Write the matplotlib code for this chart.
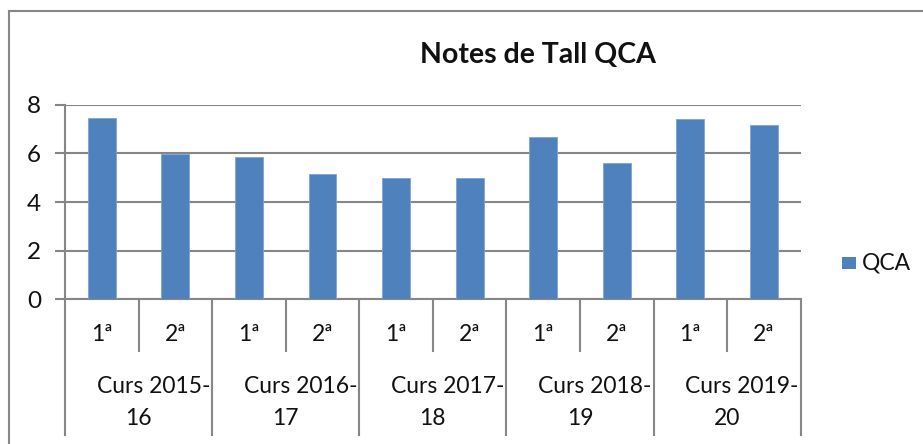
"""
Notes de Tall QCA - Excel style bar chart with two-level category axis
"""
import matplotlib.pyplot as plt
from matplotlib.lines import Line2D
import matplotlib.patches as mpatches

plt.rcParams['font.family'] = ['Lato', 'DejaVu Sans']

# Data
courses = ['Curs 2015-\n16', 'Curs 2016-\n17', 'Curs 2017-\n18', 'Curs 2018-\n19', 'Curs 2019-\n20']
terms = ['1ª', '2ª']
qca = [7.46, 5.97, 5.84, 5.14, 5.0, 5.0, 6.66, 5.62, 7.41, 7.15]
yticks = [0, 2, 4, 6, 8]

grey = '#868686'
bar_color = '#4F81BD'
txt = '#111111'

fig = plt.figure(figsize=(9.23, 4.44), dpi=100)
ax = fig.add_axes([65 / 923, 1 - 299.3 / 444, (800.7 - 65) / 923, (299.3 - 104.7) / 444])

n = len(qca)
x = [i + 0.5 for i in range(n)]
ax.bar(x, qca, width=0.38, color=bar_color, edgecolor='#7fa3d3', linewidth=0.6,
       zorder=3, label='QCA')

ax.set_xlim(0, n)
ax.set_ylim(0, 8)
ax.set_yticks(yticks)
ax.set_xticks([])
ax.grid(axis='y', color=grey, linewidth=1.5, zorder=1)
ax.tick_params(axis='y', length=7.2, width=1.5, color=grey, pad=10, labelsize=17.5,
               labelcolor=txt)
for s in ['top', 'right']:
    ax.spines[s].set_visible(False)
for s in ['left', 'bottom']:
    ax.spines[s].set_color(grey)
    ax.spines[s].set_linewidth(1.5)

# Two-level category axis
tr = ax.get_xaxis_transform()
nt = len(terms)
for i in range(n):
    ax.text(x[i], -0.183, terms[i % nt], transform=tr, ha='center', va='center',
            fontsize=16.5, color=txt)
    if i % nt != 0:
        ax.add_line(Line2D([i, i], [0, -0.266], transform=tr, color=grey,
                           linewidth=1.5, clip_on=False))
for g, name in enumerate(courses):
    left = g * nt
    c = left + nt / 2
    first, second = name.split('\n')
    ax.text(c + 0.2, -0.45, first, transform=tr, ha='center', va='center',
            fontsize=16.5, color=txt)
    ax.text(c, -0.61, second, transform=tr, ha='center', va='center',
            fontsize=16.5, color=txt)
for b in range(len(courses) + 1):
    ax.add_line(Line2D([b * nt, b * nt], [0, -0.697], transform=tr, color=grey,
                       linewidth=1.5, clip_on=False))

# Title
fig.text(538 / 923, 1 - 55 / 444, 'Notes de Tall QCA', ha='center', va='center',
         fontsize=20.5, fontweight='bold', color=txt)

# Legend
fig.patches.append(mpatches.Rectangle((842 / 923, 1 - 269 / 444), 14 / 923, 12 / 444,
                                      transform=fig.transFigure, facecolor=bar_color,
                                      edgecolor='none'))
fig.text(862 / 923, 1 - 263 / 444, 'QCA', ha='left', va='center', fontsize=16.5,
         color=txt)

# Chart border (top and left visible)
fig.add_artist(Line2D([9 / 923, 1], [1 - 11 / 444, 1 - 11 / 444], transform=fig.transFigure,
                      color=grey, linewidth=1.5))
fig.add_artist(Line2D([9 / 923, 9 / 923], [1 - 11 / 444, 0], transform=fig.transFigure,
                      color=grey, linewidth=1.5))

fig.savefig('out.png', dpi=100, facecolor='white')
